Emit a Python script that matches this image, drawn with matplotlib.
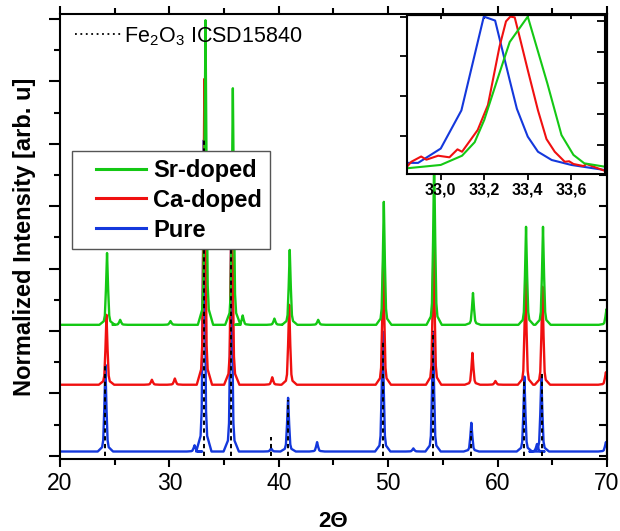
import matplotlib
matplotlib.use('Agg')
import matplotlib.pyplot as plt
from matplotlib.lines import Line2D
from matplotlib.legend_handler import HandlerLine2D
import numpy as np

plt.rcParams['font.family'] = ['Liberation Sans', 'DejaVu Sans']
plt.rcParams['mathtext.fontset'] = 'custom'
plt.rcParams['mathtext.rm'] = 'Liberation Sans'
plt.rcParams['mathtext.it'] = 'Liberation Sans:italic'
plt.rcParams['mathtext.bf'] = 'Liberation Sans:bold'

# ---------------- data ----------------
labels = ['Sr-doped', 'Ca-doped', 'Pure']
colors = ['#14c814', '#f01010', '#1438dc']

# baselines (normalized, offset) of each pattern
base_sr = 2.10
base_ca = 1.14
base_pure = 0.07

# peak positions (2theta) and heights above baseline
sr_pos = [24.3, 25.5, 30.1, 33.3, 35.8, 36.7, 39.6, 41.0, 43.6, 49.6, 54.2, 57.75, 62.6, 64.15, 69.95]
sr_h = [1.15, 0.08, 0.06, 4.88, 3.79, 0.15, 0.10, 1.20, 0.08, 1.97, 2.67, 0.51, 1.57, 1.57, 0.25]

ca_pos = [24.25, 28.4, 30.5, 33.2, 35.7, 39.4, 40.95, 49.55, 54.15, 57.7, 59.8, 62.55, 64.1, 69.9]
ca_h = [1.12, 0.08, 0.10, 4.90, 3.50, 0.12, 1.28, 2.08, 2.35, 0.51, 0.06, 1.71, 1.57, 0.20]

pure_pos = [24.15, 32.3, 33.15, 35.65, 39.3, 40.85, 43.5, 49.5, 52.3, 54.1, 57.6, 62.45, 63.6, 64.0, 69.9]
pure_h = [1.39, 0.10, 4.99, 3.50, 0.05, 0.86, 0.15, 1.92, 0.05, 1.92, 0.46, 1.20, 0.12, 1.20, 0.15]

# peak shape (offset in 2theta, fraction of peak height)
profile_dx = [-0.7, -0.3, -0.2, -0.1, 0.0, 0.1, 0.2, 0.3, 0.7]
profile_frac = [0.0, 0.05, 0.13, 0.5, 1.0, 0.5, 0.13, 0.05, 0.0]

# reference pattern Fe2O3 ICSD15840 (sticks)
ref_pos = [24.14, 33.15, 35.61, 39.28, 40.85, 49.48, 54.09, 57.59, 62.45, 64.02]
ref_h = [1.47, 5.07, 3.55, 0.30, 0.90, 1.82, 2.00, 0.40, 1.22, 1.35]

# inset (normalized) data around 33 deg
in_pure_x = [32.845, 32.896, 33.0, 33.095, 33.198, 33.25, 33.317, 33.35, 33.40, 33.447, 33.51, 33.6, 33.754]
in_pure_y = [0.07, 0.07, 0.16, 0.40, 0.99, 0.965, 0.59, 0.41, 0.235, 0.14, 0.088, 0.057, 0.025]
in_ca_x = [32.845, 32.865, 32.91, 32.934, 32.988, 33.04, 33.077, 33.098, 33.17, 33.217, 33.27, 33.30,
           33.32, 33.34, 33.363, 33.40, 33.447, 33.486, 33.524, 33.57, 33.59, 33.61, 33.656, 33.67, 33.71, 33.754]
in_ca_y = [0.046, 0.077, 0.11, 0.09, 0.115, 0.105, 0.155, 0.14, 0.277, 0.434, 0.80, 0.96,
           0.99, 0.985, 0.86, 0.654, 0.40, 0.22, 0.14, 0.077, 0.08, 0.063, 0.05, 0.063, 0.042, 0.02]
in_sr_x = [32.845, 33.0, 33.098, 33.156, 33.20, 33.264, 33.317, 33.40, 33.49, 33.555, 33.61, 33.66, 33.754]
in_sr_y = [0.036, 0.057, 0.115, 0.20, 0.34, 0.61, 0.83, 0.99, 0.57, 0.245, 0.12, 0.067, 0.046]

x_ticks = [20, 30, 40, 50, 60, 70]
in_x_ticks = [33.0, 33.2, 33.4, 33.6]
in_x_labels = ['33,0', '33,2', '33,4', '33,6']


def pattern(pos, h, base):
    xs = [20.0]
    ys = [base]
    for c, a in zip(pos, h):
        for dx, f in zip(profile_dx, profile_frac):
            xs.append(c + dx)
            ys.append(base + f * a)
    xs.append(70.5)
    ys.append(base)
    return xs, ys


# ---------------- figure ----------------
fig = plt.figure(figsize=(6.2, 5.31), dpi=100)
ax = fig.add_axes([60 / 620, 72 / 531, 547 / 620, 445 / 531])

for pos, h, base, col in [(pure_pos, pure_h, base_pure, colors[2]),
                          (ca_pos, ca_h, base_ca, colors[1]),
                          (sr_pos, sr_h, base_sr, colors[0])]:
    xs, ys = pattern(pos, h, base)
    ax.plot(xs, ys, color=col, lw=1.7, solid_joinstyle='round')

ax.vlines(ref_pos, 0, ref_h, colors='k', linestyles=(0, (2.2, 1.8)), lw=1.4, zorder=4)

ax.set_xlim(20, 70)
ax.set_ylim(-0.05, 7.08)

for s in ax.spines.values():
    s.set_linewidth(1.5)

ax.set_xticks(x_ticks)
ax.set_xticks([25, 35, 45, 55, 65], minor=True)
ax.tick_params(axis='x', which='major', direction='out', length=6, width=1.5,
               labelsize=16.5, top=True, pad=3)
ax.tick_params(axis='x', which='minor', direction='out', length=4, width=1.5, top=True)
ax.set_yticks(np.arange(0, 7.01, 1.0))
ax.set_yticks(np.arange(0.5, 7.01, 1.0), minor=True)
ax.tick_params(axis='y', which='major', direction='out', length=8, width=1.5, labelleft=False)
ax.tick_params(axis='y', which='minor', direction='out', length=4.5, width=1.5)
ax.tick_params(axis='y', which='both', right=False)

sec = ax.secondary_yaxis('right')
sec.set_yticks(np.arange(0, 7.01, 0.5))
sec.tick_params(direction='in', length=6, width=1.5, labelright=False)
sec.spines['right'].set_linewidth(1.5)

ax.set_xlabel('2\u0398', fontsize=16, fontweight='bold', labelpad=12)
ax.set_ylabel('Normalized Intensity [arb. u]', fontsize=17, fontweight='bold', labelpad=9)

# legends
hs = [Line2D([], [], color=c, lw=2.2) for c in colors]
leg = ax.legend(hs, labels, loc='upper left', bbox_to_anchor=(0.022, 0.692),
                borderaxespad=0, prop=dict(weight='bold', size=17), handlelength=2.8,
                handletextpad=0.3, labelspacing=0.29, borderpad=0.33, fancybox=False,
                edgecolor='#555555', framealpha=1,
                handler_map={Line2D: HandlerLine2D(xpad=0.69)})
leg.get_frame().set_linewidth(1.0)
leg.set_zorder(6)
ax.add_artist(leg)

leg2 = ax.legend([Line2D([], [], color='k', ls=(0, (1, 2)), lw=1.3)],
                 [r'Fe$_2$O$_3$ ICSD15840'], loc='center left', bbox_to_anchor=(0.027, 0.95),
                 frameon=False, prop=dict(size=15.5), handlelength=2.2,
                 handletextpad=0.08, borderpad=0, borderaxespad=0)

# inset
axi = fig.add_axes([407 / 620, (531 - 174) / 531, 198 / 620, 159 / 531])
axi.set_zorder(10)
axi.plot(in_pure_x, in_pure_y, color=colors[2], lw=1.5)
axi.plot(in_ca_x, in_ca_y, color=colors[1], lw=1.5)
axi.plot(in_sr_x, in_sr_y, color=colors[0], lw=1.5)
axi.set_xlim(32.845, 33.755)
axi.set_ylim(0, 1)
for s in axi.spines.values():
    s.set_linewidth(1.5)
axi.set_xticks(in_x_ticks)
axi.set_xticklabels(in_x_labels)
axi.tick_params(axis='x', direction='out', length=4, width=1.3, labelsize=11.5, pad=2)
for t in axi.get_xticklabels():
    t.set_fontweight('bold')
axi.set_yticks([0.24, 0.49, 0.74, 0.99])
axi.tick_params(axis='y', direction='out', length=5, width=1.3, labelleft=False)
sx = axi.secondary_xaxis('top')
sx.set_xticks(in_x_ticks)
sx.tick_params(direction='in', length=3, width=1.3, labeltop=False)
sy = axi.secondary_yaxis('right')
sy.set_yticks([0.185, 0.38, 0.575, 0.77, 0.965])
sy.tick_params(direction='in', length=6, width=1.3, labelright=False)

fig.savefig('out.png', dpi=100, facecolor='white')
